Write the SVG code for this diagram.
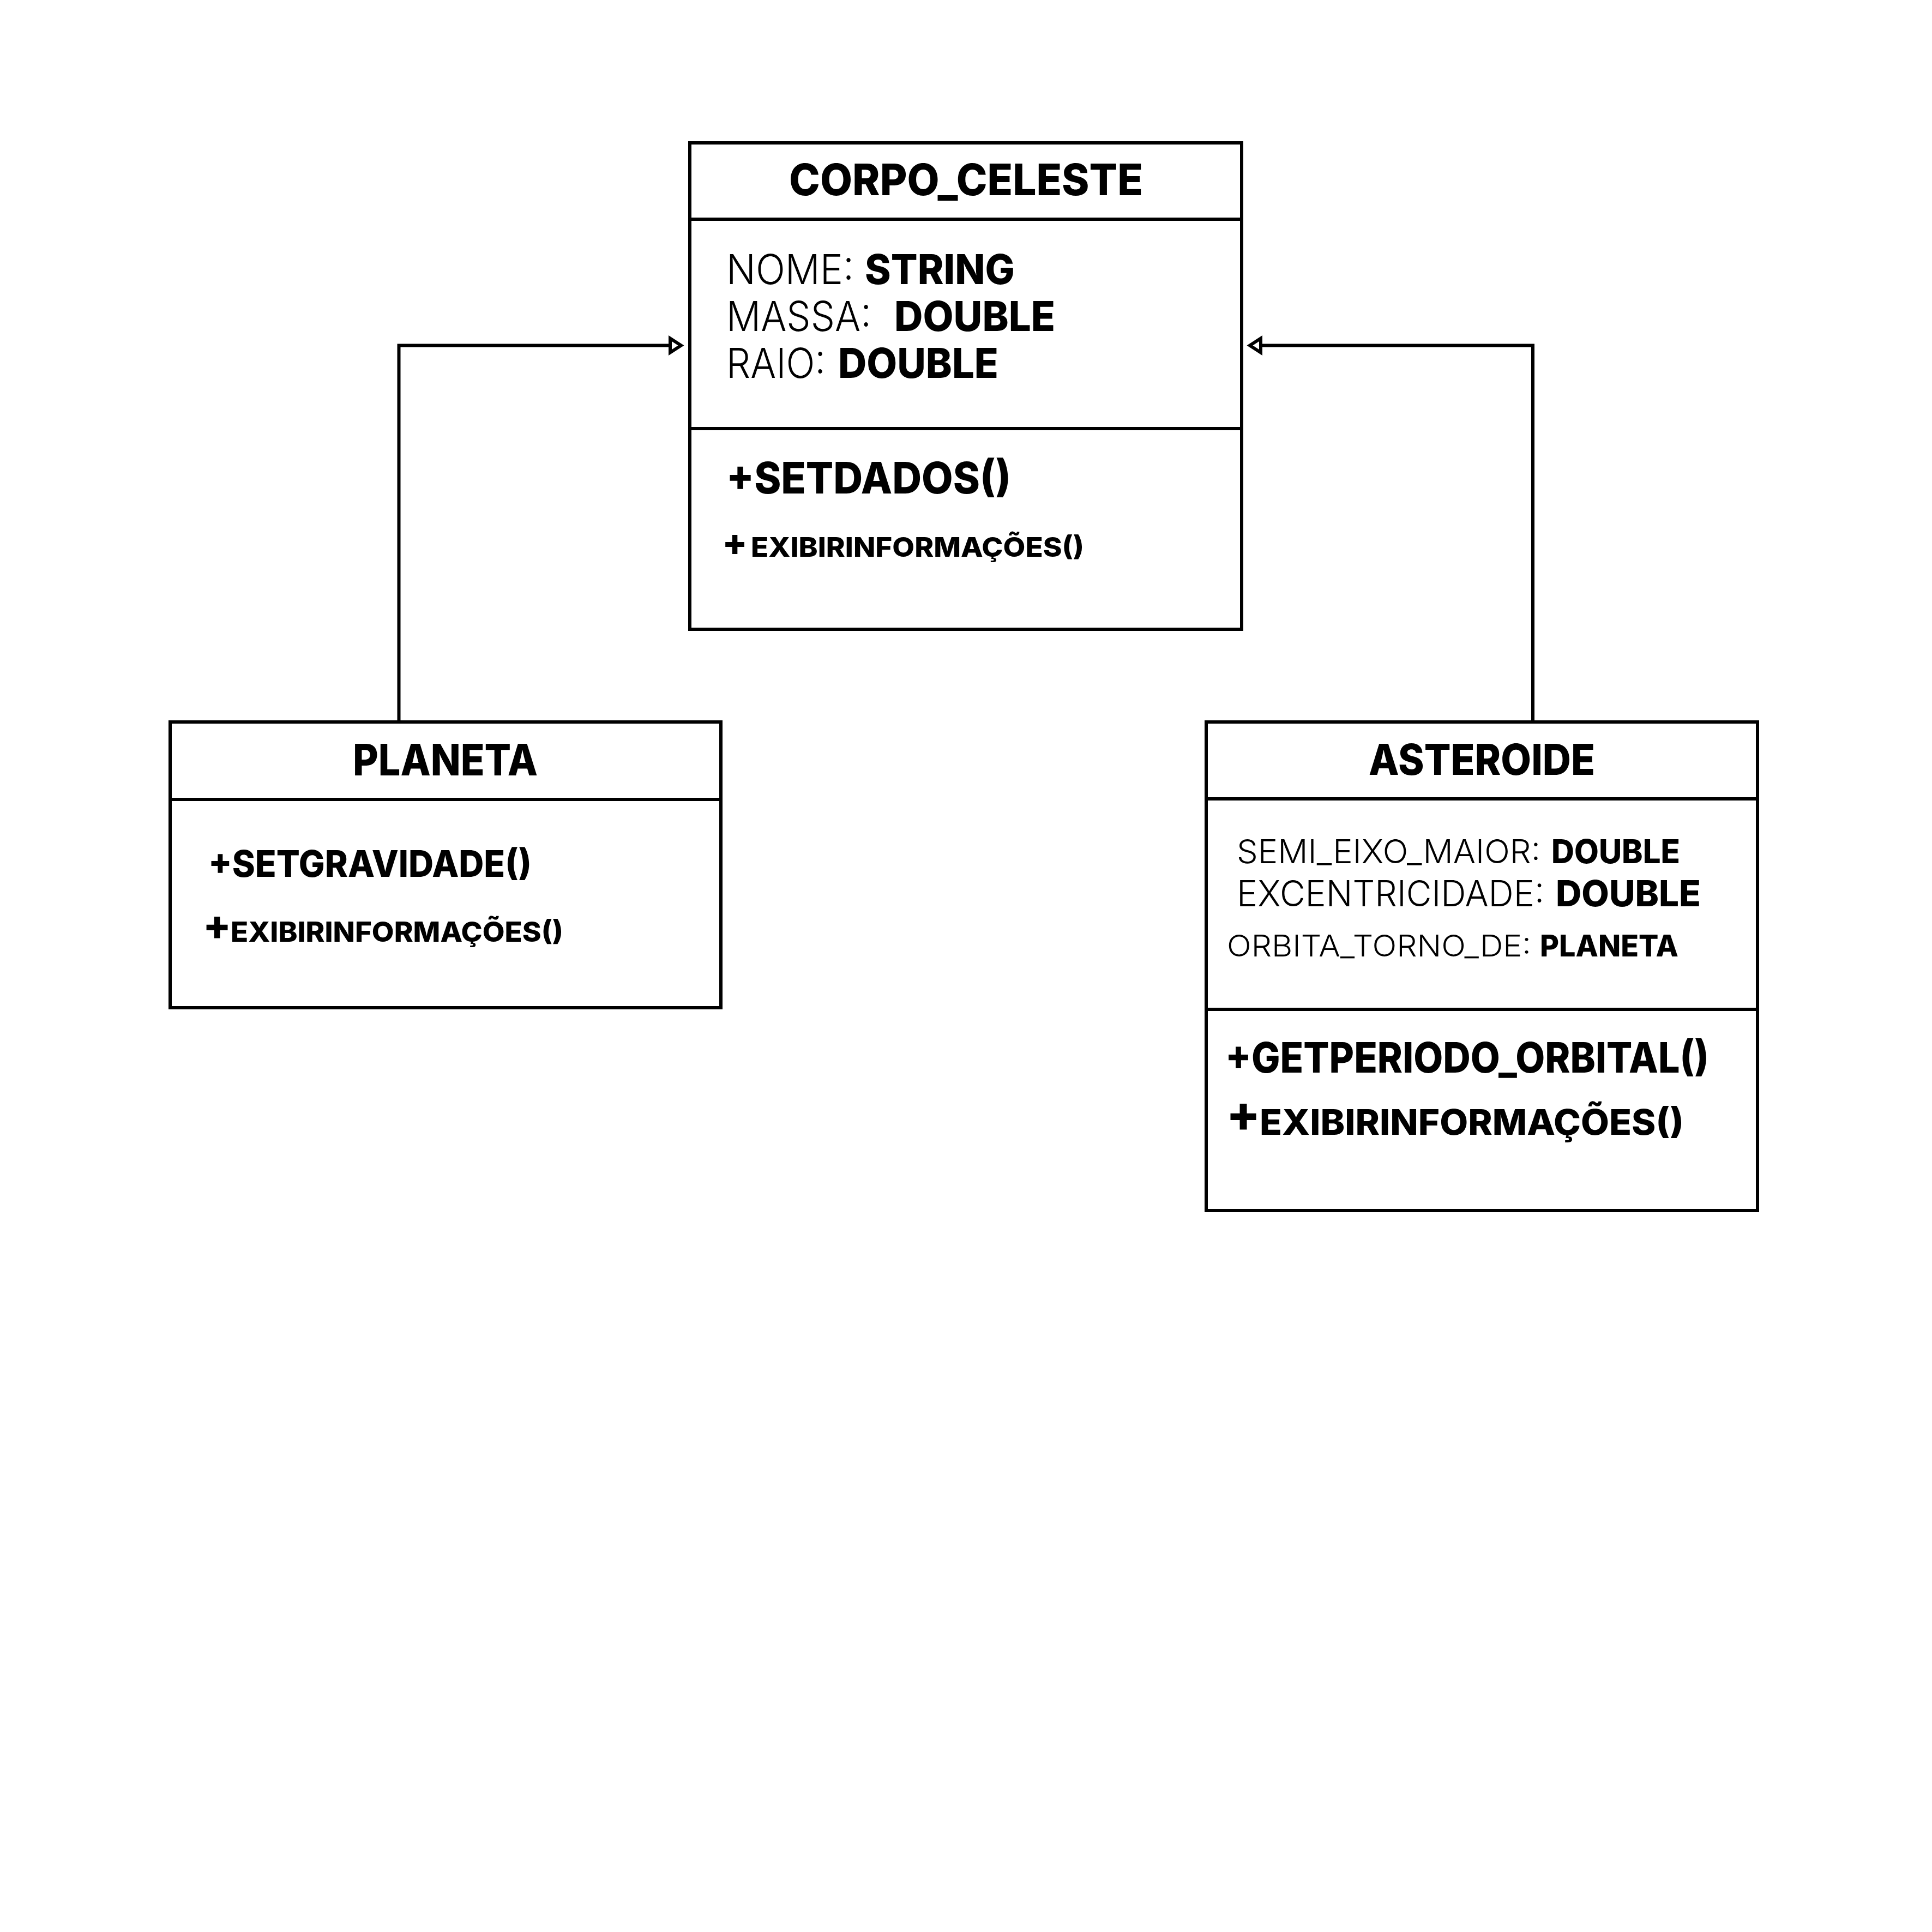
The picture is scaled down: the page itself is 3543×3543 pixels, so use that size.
<svg xmlns="http://www.w3.org/2000/svg" width="3543" height="3543" viewBox="0 0 3543 3543">
<style>
.box{fill:#fff;stroke:#000;stroke-width:6}
.div{stroke:#000;stroke-width:6}
.conn{fill:none;stroke:#000;stroke-width:6}
.b{font-family:Inter,"Liberation Sans",sans-serif;font-weight:800;fill:#000}
.l{font-family:Inter,"Liberation Sans",sans-serif;font-weight:300;fill:#000}
</style>
<defs>
<marker id="tri" markerUnits="userSpaceOnUse" viewBox="-10 -25 40 50" markerWidth="40" markerHeight="50" refX="20" refY="0" orient="auto" overflow="visible">
<path d="M0,-13 L20,0 L0,13 Z" fill="#fff" stroke="#000" stroke-width="6"/>
</marker>
</defs>
<rect width="3543" height="3543" fill="#fff"/>
<g id="connectors">
<path class="conn" d="M731.5,1324 V633.5 H1249" marker-end="url(#tri)"/>
<path class="conn" d="M2811,1324 V633.5 H2292" marker-end="url(#tri)"/>
</g>
<g id="corpo_celeste">
<rect class="box" x="1265" y="262" width="1012" height="892"/>
<line class="div" x1="1265" y1="402" x2="2277" y2="402"/>
<line class="div" x1="1265" y1="786" x2="2277" y2="786"/>
<text class="b" x="1447" y="358" font-size="80" textLength="649" lengthAdjust="spacingAndGlyphs">CORPO_CELESTE</text>
<text class="l" font-size="76"><tspan x="1332" y="521" textLength="234" lengthAdjust="spacingAndGlyphs">NOME:</tspan><tspan class="b" x="1586" y="521" textLength="275" lengthAdjust="spacingAndGlyphs">STRING</tspan><tspan x="1332" y="607" textLength="266" lengthAdjust="spacingAndGlyphs">MASSA:</tspan><tspan class="b" x="1640" y="607" textLength="295" lengthAdjust="spacingAndGlyphs">DOUBLE</tspan><tspan x="1332" y="693" textLength="182" lengthAdjust="spacingAndGlyphs">RAIO:</tspan><tspan class="b" x="1537" y="693" textLength="294" lengthAdjust="spacingAndGlyphs">DOUBLE</tspan></text>
<text class="b" x="1332" y="905" font-size="80" textLength="522" lengthAdjust="spacingAndGlyphs">+SETDADOS()</text>
<text class="b" font-size="50"><tspan x="1347.5" y="1018" font-size="68" text-anchor="middle">+</tspan><tspan x="1377" y="1021" textLength="611" lengthAdjust="spacingAndGlyphs">EXIBIRINFORMAÇÕES()</tspan></text>
</g>
<g id="planeta">
<rect class="box" x="312" y="1324" width="1010" height="524"/>
<line class="div" x1="312" y1="1466" x2="1322" y2="1466"/>
<text class="b" x="647" y="1422" font-size="80" textLength="339" lengthAdjust="spacingAndGlyphs">PLANETA</text>
<text class="b" x="382" y="1608" font-size="67" textLength="593" lengthAdjust="spacingAndGlyphs">+SETGRAVIDADE()</text>
<text class="b" font-size="51"><tspan x="398" y="1723" font-size="76" text-anchor="middle">+</tspan><tspan x="423" y="1727" textLength="610" lengthAdjust="spacingAndGlyphs">EXIBIRINFORMAÇÕES()</tspan></text>
</g>
<g id="asteroide">
<rect class="box" x="2212" y="1324" width="1011" height="896"/>
<line class="div" x1="2212" y1="1465" x2="3223" y2="1465"/>
<line class="div" x1="2212" y1="1851" x2="3223" y2="1851"/>
<text class="b" x="2510" y="1421" font-size="78" textLength="415" lengthAdjust="spacingAndGlyphs">ASTEROIDE</text>
<text class="l"><tspan x="2268" y="1583" font-size="60" textLength="557" lengthAdjust="spacingAndGlyphs">SEMI_EIXO_MAIOR:</tspan><tspan class="b" x="2845" y="1583" font-size="60" textLength="236" lengthAdjust="spacingAndGlyphs">DOUBLE</tspan><tspan x="2268" y="1662" font-size="66" textLength="564" lengthAdjust="spacingAndGlyphs">EXCENTRICIDADE:</tspan><tspan class="b" x="2853" y="1662" font-size="66" textLength="266" lengthAdjust="spacingAndGlyphs">DOUBLE</tspan><tspan x="2250" y="1754" font-size="55" textLength="558" lengthAdjust="spacingAndGlyphs">ORBITA_TORNO_DE:</tspan><tspan class="b" x="2824" y="1754" font-size="55" textLength="254" lengthAdjust="spacingAndGlyphs">PLANETA</tspan></text>
<text class="b" x="2247" y="1967" font-size="77" textLength="887" lengthAdjust="spacingAndGlyphs">+GETPERIODO_ORBITAL()</text>
<text class="b" font-size="65"><tspan x="2280" y="2075" font-size="92" text-anchor="middle">+</tspan><tspan x="2310" y="2081" textLength="778" lengthAdjust="spacingAndGlyphs">EXIBIRINFORMAÇÕES()</tspan></text>
</g>
</svg>
